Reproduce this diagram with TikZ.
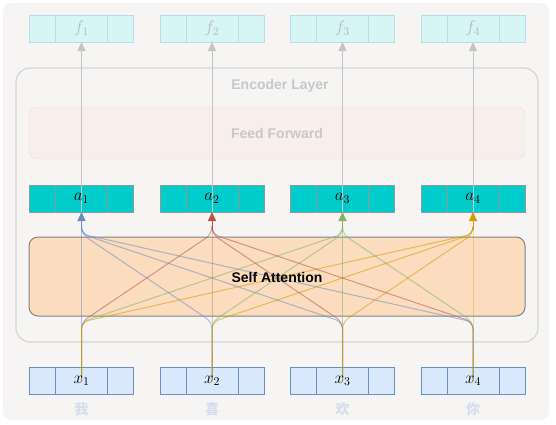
\RequirePackage{fix-cm}
\documentclass[tikz,border=0pt]{standalone}
\usepackage{fontspec}
\setmainfont{Liberation Sans}
\newfontfamily\cjk{Noto Sans CJK SC}
\usetikzlibrary{arrows.meta,calc}
\definecolor{bgcol}{RGB}{246,245,244}
\definecolor{enccol}{RGB}{214,214,214}
\definecolor{labcol}{RGB}{200,200,200}
\definecolor{fffill}{RGB}{248,239,237}
\definecolor{ffdraw}{RGB}{232,222,220}
\definecolor{safill}{RGB}{251,220,190}
\definecolor{sadraw}{RGB}{130,130,130}
\definecolor{xfill}{HTML}{DAE8FC}
\definecolor{xdraw}{HTML}{6C8EBF}
\definecolor{afill}{HTML}{00CCCC}
\definecolor{adraw}{RGB}{150,150,150}
\definecolor{ffill}{RGB}{214,246,246}
\definecolor{fdraw}{RGB}{185,222,235}
\definecolor{ftext}{RGB}{185,185,185}
\definecolor{upcol}{RGB}{196,196,196}
\definecolor{zhcol}{RGB}{212,222,236}
\definecolor{c1}{HTML}{6C8EBF}
\definecolor{c2}{HTML}{B85450}
\definecolor{c3}{HTML}{82B366}
\definecolor{c4}{HTML}{D79B00}
\begin{document}
\begin{tikzpicture}[x=1pt, y=-1pt, font=\fontsize{14}{16}\selectfont,
  cell/.style={rectangle, minimum width=104pt, minimum height=27pt, inner sep=0pt, outer sep=0pt},
  lab/.style={inner sep=0pt, font=\fontsize{14}{16}\selectfont\bfseries, text=labcol},
  sym/.style={inner sep=0pt, font=\fontsize{17}{19}\selectfont},
  fan/.style={line width=1pt, draw opacity=0.55, rounded corners=7pt},
  tip/.style={line width=1pt, -{Triangle[width=8pt,length=9pt]}}]
\useasboundingbox (0,0) rectangle (556,424);
% panel and encoder frame
\fill[bgcol, rounded corners=8pt] (3,3) rectangle (549,420);
\draw[enccol, line width=1.2pt, rounded corners=14pt] (16,68) rectangle (538,342);
\node[lab] (enc) at (280,86) {Encoder Layer};
\draw[ffdraw, fill=fffill, rounded corners=8pt] (29,107) rectangle (525,159);
\node[lab] (ff) at (277,133) {Feed Forward};
\draw[sadraw, fill=safill, line width=1pt, rounded corners=9pt] (29,237) rectangle (525,316);
% boxes of the three rows
\foreach \i/\cx/\zh in {1/81.5/我, 2/212/喜, 3/342.5/欢, 4/473/你} {
  \node[cell, draw=xdraw, fill=xfill, line width=1pt] (x\i) at (\cx,381) {};
  \node[cell, draw=adraw, fill=afill] (a\i) at (\cx,198.5) {};
  \node[cell, draw=fdraw, fill=ffill] (f\i) at (\cx,28.5) {};
  \foreach \s in {-26,26} {
    \draw[xdraw, line width=1pt] ([xshift=\s]x\i.north) -- ([xshift=\s]x\i.south);
    \draw[adraw] ([xshift=\s]a\i.north) -- ([xshift=\s]a\i.south);
    \draw[fdraw] ([xshift=\s]f\i.north) -- ([xshift=\s]f\i.south);
  }
  \node[text=zhcol, font=\fontsize{14}{16}\selectfont\cjk\bfseries] (zh\i) at (\cx,409) {\zh};
}
% attention: every input to every output, coloured by output
\foreach \i/\xi in {1/81.5, 2/212, 3/342.5, 4/473} {
  \foreach \j/\xj in {1/81.5, 2/212, 3/342.5, 4/473} {
    \draw[fan, c\j] (x\i.center) -- (\xi,322) -- (\xj,234) -- (\xj,226);
  }
}
\foreach \j/\xj in {1/81.5, 2/212, 3/342.5, 4/473} {
  \draw[tip, c\j] (\xj,230) -- (a\j.south);
  \draw[tip, upcol] (a\j.south) -- (f\j.south);
}
\node[font=\fontsize{14}{16}\selectfont\bfseries] (sa) at (277,277) {Self Attention};
% labels on top
\foreach \i in {1,...,4} {
  \node[sym] (lx\i) at (x\i) {$x_\i$};
  \node[sym] (la\i) at (a\i) {$a_\i$};
  \node[sym, text=ftext] (lf\i) at (f\i) {$f_\i$};
}
\end{tikzpicture}
\end{document}
